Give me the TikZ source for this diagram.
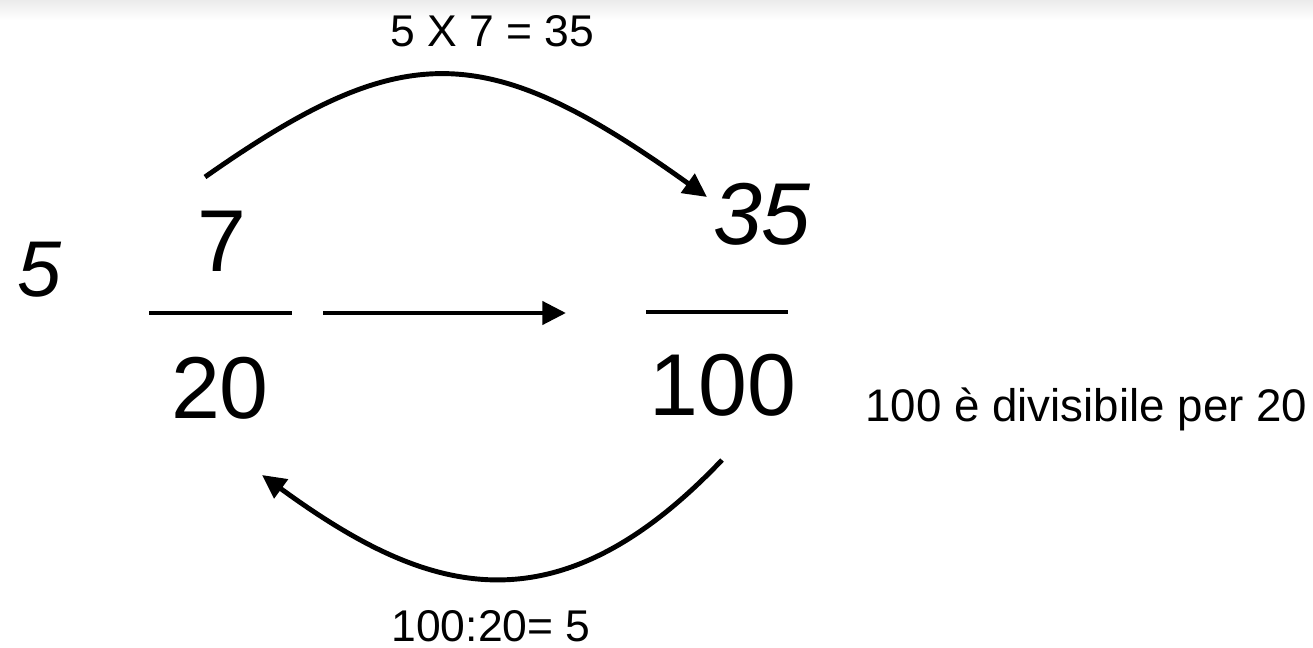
\documentclass[tikz,border=0pt]{standalone}
\usepackage{fontspec}
\setmainfont{Liberation Sans}
\usetikzlibrary{positioning,arrows.meta}

\begin{document}
\begin{tikzpicture}[x=0.02cm,y=-0.02cm,>={Triangle[length=13.5pt,width=13pt]},line width=2.8pt,
  big/.style={font=\fontsize{50}{60}\selectfont,inner sep=0pt,anchor=base},
  bigit/.style={font=\fontsize{50}{60}\selectfont\itshape,inner sep=0pt,anchor=base},
  lbl/.style={font=\fontsize{25.3}{30}\selectfont,inner sep=0pt,anchor=base}]
  \useasboundingbox (0,0) rectangle (1313,648);
  \shade[top color=black!8,bottom color=white] (0,0) rectangle (1313,20);
  % fraction 7/20 and 35/100
  \node[bigit,font=\fontsize{45}{54}\selectfont\itshape] (fac) at (39,297) {5};
  \node[big] (num1) at (222,272) {7};
  \node[big] (den1) at (220,419) {20};
  \node[bigit] (num2) at (762,245) {35};
  \node[big] (den2) at (723,416) {100};
  \draw (149,313) -- (292,313);
  \draw (646,312) -- (788,312);
  \coordinate (a1) at (323,313); \coordinate (a2) at (566,313);
  \draw[->] (a1) -- (a2);
  % arcs
  \coordinate (t1) at (205,177); \coordinate (t2) at (707,197);
  \draw[->] (t1) .. controls (403,38) and (485,38) .. (t2);
  \coordinate (b1) at (722,460); \coordinate (b2) at (262,475);
  \draw[->] (b1) .. controls (551,640) and (420,590) .. (b2);
  \node[lbl] (prod) at (492,47) {5 X 7 = 35};
  \node[lbl] (quot) at (491,642) {100:20= 5};
  \node[lbl,font=\fontsize{26}{31}\selectfont,anchor=base west] (nota) at (863,422) {100 è divisibile per 20};
\end{tikzpicture}
\end{document}
